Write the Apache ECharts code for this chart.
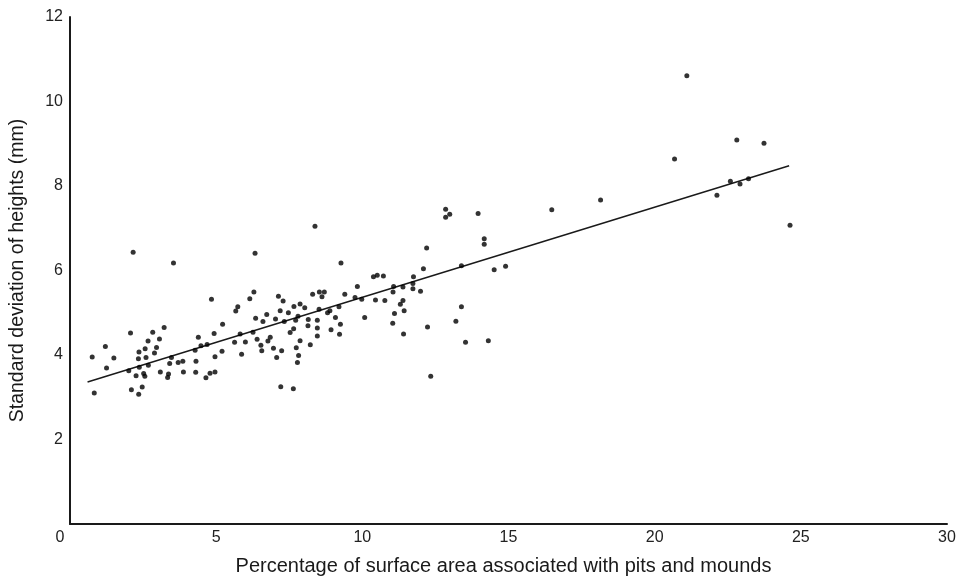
<!DOCTYPE html>
<html>
<head>
<meta charset="utf-8">
<script src="https://cdn.jsdelivr.net/npm/echarts@6/dist/echarts.min.js"></script>
<style>html,body{margin:0;padding:0;background:#fff;}#c{width:960px;height:585px;}</style>
</head>
<body>
<div id="c"></div>
<script>
var xTicks = [0, 5, 10, 15, 20, 25, 30];
var yTicks = [0, 2, 4, 6, 8, 10, 12];
var xTitle = 'Percentage of surface area associated with pits and mounds';
var yTitle = 'Standard deviation of heights (mm)';

var pctArea = [
 2.16,3.54,2.07,2.83,3.22,1.21,2.67,3.06,0.76,1.50,2.36,2.57,2.96,2.34,2.60,2.89,1.25,2.01,2.37,2.68,
 3.41,2.26,2.52,2.56,3.09,3.37,3.34,3.47,0.83,2.10,2.47,2.35,3.70,3.86,3.88,6.33,4.84,6.29,6.15,5.74,
 5.67,7.13,7.29,5.22,6.35,6.60,6.73,7.03,7.19,7.47,7.66,7.87,8.03,8.30,8.53,7.33,7.72,7.80,8.15,8.46,
 8.14,8.46,7.65,7.53,7.87,8.46,8.22,4.39,4.93,5.82,6.26,4.48,4.69,4.28,5.63,6.00,6.40,6.85,6.77,6.53,
 6.56,6.96,7.24,7.07,7.74,7.82,7.78,5.20,4.96,5.87,4.31,4.30,4.65,4.79,4.96,7.21,7.64,8.38,9.27,9.83,
 8.62,8.70,9.40,9.75,9.98,10.08,8.52,8.81,8.89,9.20,9.08,8.93,9.22,9.25,12.85,12.99,12.85,12.20,13.39,12.09,
 10.38,10.51,10.72,11.75,10.45,10.77,11.07,11.05,11.39,11.73,11.73,11.99,11.39,11.30,11.43,11.10,11.04,11.41,12.23,13.39,
 13.20,13.53,12.34,13.96,16.48,18.15,14.17,14.17,14.51,14.90,14.31,21.10,22.81,23.74,20.68,22.59,22.92,23.21,22.13,24.63
];
var sdHeight = [
 6.43,6.18,4.52,4.54,4.65,4.20,4.33,4.38,3.95,3.93,4.07,4.15,4.18,3.91,3.94,4.05,3.69,3.63,3.71,3.76,
 3.80,3.51,3.56,3.50,3.60,3.55,3.47,3.94,3.10,3.18,3.24,3.07,3.82,3.85,3.60,6.41,5.32,5.49,5.33,5.14,
 5.04,5.39,5.28,4.73,4.87,4.79,4.96,4.85,5.05,5.00,5.15,5.21,5.12,5.44,5.49,4.79,4.82,4.92,4.84,4.82,
 4.69,4.64,4.62,4.53,4.34,4.45,4.24,4.42,4.51,4.50,4.54,4.22,4.25,4.11,4.30,4.31,4.37,4.42,4.33,4.23,
 4.10,4.16,4.10,3.94,4.17,3.99,3.82,4.09,3.96,4.02,3.85,3.59,3.46,3.57,3.60,3.25,3.20,7.05,6.18,5.62,
 5.38,5.49,5.44,5.36,5.32,4.89,5.08,5.00,5.05,5.14,4.89,4.60,4.49,4.73,7.45,7.33,7.26,6.53,6.11,6.04,
 5.85,5.89,5.87,5.85,5.30,5.29,5.62,5.49,5.61,5.69,5.57,5.51,5.29,5.20,5.05,4.98,4.75,4.50,4.66,5.14,
 4.80,4.30,3.50,7.35,7.44,7.67,6.75,6.62,6.02,6.10,4.34,10.61,9.09,9.01,8.64,8.11,8.05,8.17,7.78,7.07
];
var fitX = [0.6, 24.6];
var fitY = [3.36, 8.48];

var points = pctArea.map(function (x, i) { return [x, sdHeight[i]]; });
var fitLine = fitX.map(function (x, i) { return [x, fitY[i]]; });

var chart = echarts.init(document.getElementById('c'), null, { renderer: 'canvas' });
var font = 'Arial, "Liberation Sans", sans-serif';
chart.setOption({
  animation: false,
  backgroundColor: '#ffffff',
  grid: { left: 69, right: 13, top: 17, bottom: 61, containLabel: false },
  xAxis: {
    type: 'value', min: xTicks[0], max: xTicks[xTicks.length - 1], interval: 5,
    name: xTitle, nameLocation: 'middle', nameGap: 32,
    nameTextStyle: { fontFamily: font, fontSize: 20, color: '#1a1a1a', padding: [0, 10, 0, 0] },
    axisLine: { show: true, onZero: false, lineStyle: { color: '#1a1a1a', width: 2 } },
    axisTick: { show: false },
    splitLine: { show: false },
    axisLabel: {
      margin: 6, fontFamily: font, fontSize: 16, color: '#222',
      formatter: function (v) { return v === 0 ? '{z|0}' : String(v); },
      rich: { z: { fontFamily: font, fontSize: 16, color: '#222', padding: [0, 20, 0, 0] } }
    }
  },
  yAxis: {
    type: 'value', min: yTicks[0], max: yTicks[yTicks.length - 1], interval: 2,
    name: yTitle, nameLocation: 'middle', nameGap: 42, nameRotate: 90,
    nameTextStyle: { fontFamily: font, fontSize: 19.5, color: '#1a1a1a' },
    axisLine: { show: true, onZero: false, lineStyle: { color: '#1a1a1a', width: 2 } },
    axisTick: { show: false },
    splitLine: { show: false },
    axisLabel: {
      margin: 7, fontFamily: font, fontSize: 16, color: '#222',
      formatter: function (v) { return v === 0 ? '' : String(v); }
    }
  },
  series: [
    {
      type: 'line', data: fitLine, symbol: 'none', silent: true,
      lineStyle: { color: '#1a1a1a', width: 1.5 }, z: 2
    },
    {
      type: 'scatter', data: points, symbol: 'circle', symbolSize: 5,
      itemStyle: { color: '#000000' }, z: 3
    }
  ]
});
</script>
</body>
</html>
